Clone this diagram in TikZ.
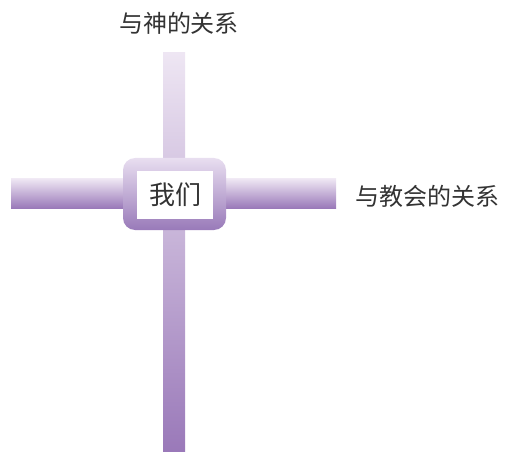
\documentclass[tikz,border=0pt]{standalone}
\usepackage{fontspec}
\newfontfamily\cjk{Noto Sans CJK SC}
\definecolor{barlight}{RGB}{238,230,243}
\definecolor{bardark}{RGB}{154,121,185}
\definecolor{boxlight}{RGB}{232,222,240}
\definecolor{boxdark}{RGB}{153,122,185}
\definecolor{txt}{RGB}{51,51,51}
\tikzset{
  label/.style={font=\cjk\fontsize{24}{28}\selectfont, text=txt, inner sep=0pt},
  centre/.style={font=\cjk\fontsize{26}{30}\selectfont, text=txt, inner sep=0pt},
}
\begin{document}
\begin{tikzpicture}[x=1pt,y=1pt]
\useasboundingbox (0,0) rectangle (507,451);
% vertical bar
\shade[top color=barlight, bottom color=bardark] (163,0) rectangle (185,398);
% horizontal bar
\shade[top color=barlight, bottom color=bardark] (11,243) rectangle (336,272);
% central box
\shade[top color=boxlight, bottom color=boxdark, rounded corners=12pt] (123,221) rectangle (226,293);
\fill[white] (137,232) rectangle (213,280);
\node[centre] (me) at (175,256) {我们};
\node[label] (god) at (179,428) {与神的关系};
\node[label] (church) at (427,255) {与教会的关系};
\end{tikzpicture}
\end{document}
